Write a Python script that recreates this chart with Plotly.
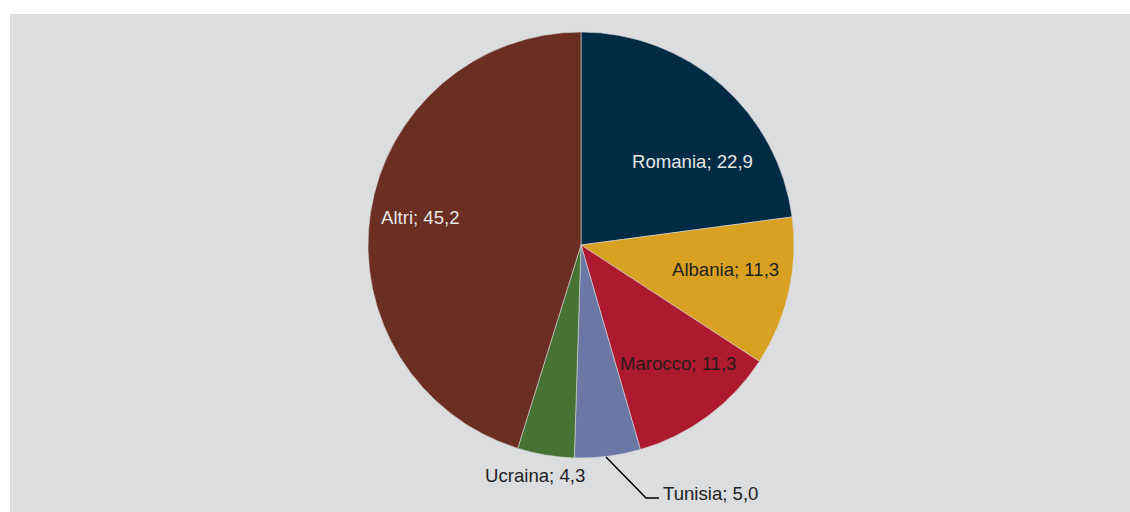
import plotly.graph_objects as go

countries = ["Romania", "Albania", "Marocco", "Tunisia", "Ucraina", "Altri"]
shares = [22.9, 11.3, 11.3, 5.0, 4.3, 45.2]
colors = ["#002B45", "#D9A122", "#AD1A30", "#6B77A5", "#467334", "#6A2E22"]
label_colors = ["#E6E6E6", "#222222", "#2A1A1A", "#222222", "#222222", "#E6E6E6"]
# label anchor positions (page pixels) and alignment
label_pos = [(692, 161, "center"), (725, 269, "center"), (678, 363, "center"),
             (661, 493, "left"), (535, 475, "center"), (420, 217, "center")]

W, H = 1130, 512
cx, cy, R = 581, 245, 213


def px(x):
    return x / W


def py(y):
    return 1 - y / H


fig = go.Figure(go.Pie(
    labels=countries, values=shares, sort=False, direction="clockwise", rotation=0,
    marker=dict(colors=colors, line=dict(color="#D8D8D8", width=0.6)),
    textinfo="none", hoverinfo="label+value", showlegend=False,
    domain=dict(x=[px(cx - R), px(cx + R)], y=[py(cy + R), py(cy - R)]),
))

annotations = []
for name, val, col, (lx, ly, al) in zip(countries, shares, label_colors, label_pos):
    annotations.append(dict(
        x=px(lx), y=py(ly), xref="paper", yref="paper",
        text=f"{name}; {val:.1f}".replace(".", ","), showarrow=False,
        xanchor=al, yanchor="middle",
        font=dict(family="Liberation Sans, Arial, sans-serif", size=18.6, color=col),
    ))

shapes = [
    dict(type="rect", xref="paper", yref="paper", x0=px(10), x1=1, y0=0, y1=py(14),
         fillcolor="#DCDDDF", line=dict(width=0), layer="below"),
    dict(type="path", xref="paper", yref="paper",
         path=f"M {px(606)} {py(457)} L {px(646)} {py(498)} L {px(659)} {py(498)}",
         line=dict(color="#000000", width=1.5)),
]

fig.update_layout(
    width=W, height=H, margin=dict(l=0, r=0, t=0, b=0),
    paper_bgcolor="#FFFFFF", plot_bgcolor="#FFFFFF",
    annotations=annotations, shapes=shapes,
)

fig.write_html(
    "out.html",
    config={"displayModeBar": False},
    post_script="document.body.style.margin='0';document.body.style.overflow='hidden';",
)
